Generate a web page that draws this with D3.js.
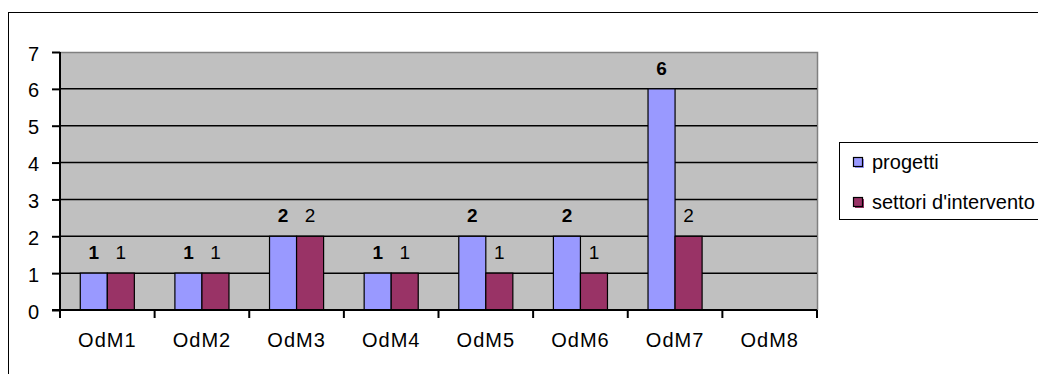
<!DOCTYPE html>
<html>
<head>
<meta charset="utf-8">
<script src="https://cdn.jsdelivr.net/npm/d3@7"></script>
<style>
  html, body { margin: 0; padding: 0; background: #fff; }
  svg { display: block; font-family: "Liberation Sans", Arial, sans-serif; }
</style>
</head>
<body>
<svg id="chart" width="1038" height="374"></svg>
<script>
// Categories and series
const categories = ["OdM1", "OdM2", "OdM3", "OdM4", "OdM5", "OdM6", "OdM7", "OdM8"];
const progetti = [1, 1, 2, 1, 2, 2, 6, null];
const settori = [1, 1, 2, 1, 1, 1, 2, null];
const seriesNames = ["progetti", "settori d'intervento"];
const seriesColors = ["#9999FF", "#993366"];
const yTicks = [0, 1, 2, 3, 4, 5, 6, 7];

const svg = d3.select("#chart");
const W = 1038, H = 374;

// Outer chart frame
svg.append("rect")
  .attr("x", 8.5).attr("y", 12.5)
  .attr("width", W + 10).attr("height", H + 10)
  .attr("fill", "#fff").attr("stroke", "#000").attr("stroke-width", 1);

const plot = { left: 60, top: 52, right: 817, bottom: 310 };

const x = d3.scaleBand()
  .domain(categories)
  .range([plot.left, plot.right]);

const y = d3.scaleLinear()
  .domain([0, 7])
  .range([plot.bottom, plot.top]);

// Plot area background
svg.append("rect")
  .attr("x", plot.left).attr("y", plot.top)
  .attr("width", plot.right - plot.left).attr("height", plot.bottom - plot.top)
  .attr("fill", "#C0C0C0");

// Plot area top/right border (grey)
svg.append("path")
  .attr("d", `M${plot.left},${plot.top + 0.5}H${plot.right + 0.5}V${plot.bottom}`)
  .attr("fill", "none").attr("stroke", "#808080").attr("stroke-width", 1.5);

// Horizontal gridlines
svg.append("g")
  .selectAll("line")
  .data(yTicks.filter(d => d > 0 && d < 7))
  .join("line")
  .attr("x1", plot.left).attr("x2", plot.right)
  .attr("y1", d => y(d)).attr("y2", d => y(d))
  .attr("stroke", "#000").attr("stroke-width", 1.5);

// Bars: clustered with Excel-style gap
const groupWidth = x.bandwidth() / 1.75;
const barW = groupWidth / 2;
const inner = d3.scaleBand().domain([0, 1]).range([0, groupWidth]);

const seriesData = [progetti, settori];
const barsG = svg.append("g");
seriesData.forEach((vals, si) => {
  barsG.selectAll(null)
    .data(categories.map((c, i) => ({ c, v: vals[i] })).filter(d => d.v != null))
    .join("rect")
    .attr("x", d => x(d.c) + (x.bandwidth() - groupWidth) / 2 + inner(si))
    .attr("y", d => y(d.v))
    .attr("width", barW)
    .attr("height", d => y(0) - y(d.v))
    .attr("fill", seriesColors[si])
    .attr("stroke", "#000").attr("stroke-width", 1.2);
});

// Value labels
seriesData.forEach((vals, si) => {
  svg.append("g").selectAll("text")
    .data(categories.map((c, i) => ({ c, v: vals[i] })).filter(d => d.v != null))
    .join("text")
    .attr("x", d => x(d.c) + (x.bandwidth() - groupWidth) / 2 + inner(si) + barW / 2)
    .attr("y", d => y(d.v) - 14)
    .attr("text-anchor", "middle")
    .attr("font-size", 19)
    .attr("font-weight", si === 0 ? "bold" : "normal")
    .attr("fill", "#000")
    .text(d => d.v);
});

// Y axis
const yAxis = d3.axisLeft(y).tickValues(yTicks).tickSize(8).tickPadding(13).tickFormat(d3.format("d"));
const yg = svg.append("g").attr("transform", `translate(${plot.left},0)`).call(yAxis);
yg.select(".domain").attr("stroke", "#000").attr("stroke-width", 2).attr("d", `M0,${plot.top}V${plot.bottom}`);
yg.selectAll(".tick line").attr("stroke", "#000").attr("stroke-width", 2);
yg.selectAll(".tick text").attr("font-size", 20).attr("fill", "#000").attr("dy", "0.4em")
  .attr("font-family", "Liberation Sans, Arial, sans-serif");

// X axis with ticks at category boundaries
const xg = svg.append("g").attr("transform", `translate(0,${plot.bottom})`);
xg.append("line")
  .attr("x1", plot.left - 8).attr("x2", plot.right)
  .attr("stroke", "#000").attr("stroke-width", 2);
const bounds = categories.map(c => x(c)).concat([plot.right]);
xg.selectAll("line.tk")
  .data(bounds)
  .join("line")
  .attr("class", "tk")
  .attr("x1", d => d).attr("x2", d => d)
  .attr("y1", 0).attr("y2", 8)
  .attr("stroke", "#000").attr("stroke-width", 2);
xg.selectAll("text")
  .data(categories)
  .join("text")
  .attr("x", d => x(d) + x.bandwidth() / 2)
  .attr("y", 37)
  .attr("text-anchor", "middle")
  .attr("font-size", 20)
  .attr("letter-spacing", 1)
  .attr("fill", "#000")
  .text(d => d);

// Legend
const lg = svg.append("g").attr("transform", "translate(839,142)");
lg.append("rect")
  .attr("x", 0.5).attr("y", 0.5).attr("width", 220).attr("height", 77)
  .attr("fill", "#fff").attr("stroke", "#000").attr("stroke-width", 1);
const rowY = [20, 60];
seriesNames.forEach((name, i) => {
  lg.append("rect")
    .attr("x", 16).attr("y", rowY[i] - 3)
    .attr("width", 9).attr("height", 9)
    .attr("fill", seriesColors[i]);
  lg.append("rect")
    .attr("x", 14.5).attr("y", rowY[i] - 4.5)
    .attr("width", 9).attr("height", 9)
    .attr("fill", seriesColors[i]).attr("stroke", "#000").attr("stroke-width", 1.2);
  lg.append("text")
    .attr("x", 33).attr("y", rowY[i] + 7)
    .attr("font-size", 20)
    .attr("fill", "#000")
    .text(name);
});
</script>
</body>
</html>
